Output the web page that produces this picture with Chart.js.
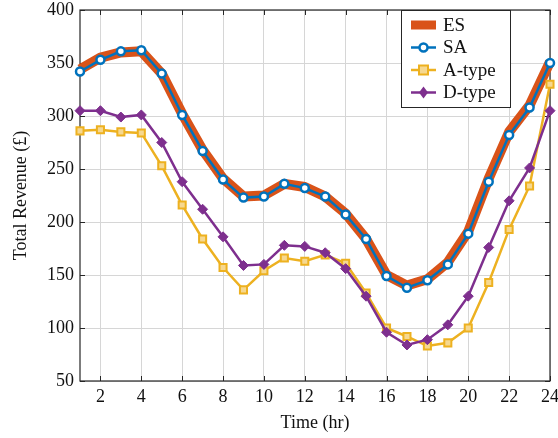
<!DOCTYPE html>
<html><head><meta charset="utf-8">
<script src="https://cdn.jsdelivr.net/npm/chart.js@4"></script>
<style>html,body{margin:0;padding:0;background:#fff}#wrap{width:558px;height:438px}</style>
</head><body><div id="wrap"><canvas id="c" width="558" height="438"></canvas></div>
<script>
const hours = [1,2,3,4,5,6,7,8,9,10,11,12,13,14,15,16,17,18,19,20,21,22,23,24];
const esValues = [344,355,360,361,340,302,268,241,224,225,236,233,224,208,184,150,140,146,162,191,241,285,310,351];
const saValues = [342,353,361,362,340,301,267,240,223,224,236,232,224,207,184,149,138,145,160,189,238,282,308,350];
const aTypeValues = [286,287,285,284,253,216,184,157,136,154,166,163,169,161,133,100,92,83,86,100,143,193,234,330];
const dTypeValues = [305,305,299,301,275,238,212,186,159,160,178,177,171,156,130,96,84,89,103,130,176,220,251,305];
const xTicks = [2,4,6,8,10,12,14,16,18,20,22,24];
const yTicks = [50,100,150,200,250,300,350,400];

const COL = {es:'#D95319', sa:'#0072BD', a:'#EDB120', d:'#7E2F8E'};
const FONT = '"Liberation Serif", "DejaVu Serif", serif';
const pts = v => v.map((y,i)=>({x:hours[i], y}));

const legendItems = [
  {label:'ES', kind:'es'},
  {label:'SA', kind:'sa'},
  {label:'A-type', kind:'a'},
  {label:'D-type', kind:'d'}
];

const framePlugin = {
  id:'frame',
  beforeDatasetsDraw(chart){
    const {ctx, chartArea:a} = chart;
    const xs = chart.scales.x, ys = chart.scales.y;
    ctx.save();
    ctx.strokeStyle = '#262626'; ctx.lineWidth = 1;
    xTicks.forEach(t=>{const px=Math.round(xs.getPixelForValue(t))+0.5;
      ctx.beginPath();ctx.moveTo(px,a.bottom);ctx.lineTo(px,a.bottom-5);ctx.moveTo(px,a.top);ctx.lineTo(px,a.top+5);ctx.stroke();});
    yTicks.forEach(t=>{const py=Math.round(ys.getPixelForValue(t))+0.5;
      ctx.beginPath();ctx.moveTo(a.left,py);ctx.lineTo(a.left+5,py);ctx.moveTo(a.right,py);ctx.lineTo(a.right-5,py);ctx.stroke();});
    ctx.lineWidth = 1.2;
    ctx.strokeRect(a.left, a.top, a.right-a.left, a.bottom-a.top);
    ctx.restore();
  },
  afterDraw(chart){
    const {ctx} = chart;
    const x0 = 401, y0 = 10, w = 109, h = 97;
    ctx.save();
    ctx.fillStyle = '#fff'; ctx.fillRect(x0,y0,w,h);
    ctx.strokeStyle = '#262626'; ctx.lineWidth = 1; ctx.strokeRect(x0+0.5,y0+0.5,w,h);
    ctx.font = '19px ' + FONT; ctx.textBaseline = 'middle'; ctx.fillStyle = '#111';
    legendItems.forEach((it,i)=>{
      const cy = y0 + 15 + i*22.5;
      const lx1 = x0+10, lx2 = x0+35, mx = (lx1+lx2)/2;
      ctx.lineCap='butt';
      if(it.kind==='es'){
        ctx.strokeStyle=COL.es; ctx.lineWidth=9; ctx.beginPath(); ctx.moveTo(lx1,cy); ctx.lineTo(lx2,cy); ctx.stroke();
      } else {
        ctx.strokeStyle=COL[it.kind]; ctx.lineWidth=2.5; ctx.beginPath(); ctx.moveTo(lx1,cy); ctx.lineTo(lx2,cy); ctx.stroke();
        if(it.kind==='sa'){ctx.fillStyle='#fff';ctx.lineWidth=2.5;ctx.beginPath();ctx.arc(mx,cy,4,0,Math.PI*2);ctx.fill();ctx.stroke();}
        if(it.kind==='a'){ctx.fillStyle='#F6D890';ctx.lineWidth=2;ctx.fillRect(mx-4.5,cy-4.5,9,9);ctx.strokeRect(mx-4.5,cy-4.5,9,9);}
        if(it.kind==='d'){ctx.fillStyle=COL.d;ctx.beginPath();ctx.moveTo(mx,cy-6);ctx.lineTo(mx+4.5,cy);ctx.lineTo(mx,cy+6);ctx.lineTo(mx-4.5,cy);ctx.closePath();ctx.fill();}
      }
      ctx.fillStyle='#111';
      ctx.fillText(it.label, x0+42, cy+1);
    });
    ctx.restore();
  }
};

new Chart(document.getElementById('c'), {
  type:'line',
  data:{datasets:[
    {label:'ES', order:4, data:pts(esValues), borderColor:COL.es, borderWidth:10, pointRadius:0, tension:0, clip:false, borderJoinStyle:'round'},
    {label:'SA', order:3, data:pts(saValues), borderColor:COL.sa, borderWidth:2.5, pointRadius:4, pointBorderWidth:2.5, pointBackgroundColor:'#fff', pointBorderColor:COL.sa, tension:0, clip:false},
    {label:'A-type', order:2, data:pts(aTypeValues), borderColor:COL.a, borderWidth:2.5, pointStyle:'rect', pointRadius:5, pointBorderWidth:2, pointBackgroundColor:'#F6D890', pointBorderColor:COL.a, tension:0, clip:false},
    {label:'D-type', order:1, data:pts(dTypeValues), borderColor:COL.d, borderWidth:2.5, pointStyle:'rectRot', pointRadius:5, pointBorderWidth:1, pointBackgroundColor:COL.d, pointBorderColor:COL.d, tension:0, clip:false}
  ]},
  options:{
    responsive:false, animation:false,
    layout:{padding:{left:6,right:8,top:10,bottom:0}},
    plugins:{legend:{display:false}, tooltip:{enabled:false}},
    scales:{
      x:{type:'linear', min:1, max:24,
        afterBuildTicks(s){s.ticks = xTicks.map(v=>({value:v}));},
        afterFit(s){s.height = 57; s.paddingLeft = 0; s.paddingRight = 0;},
        grid:{color:'#d6d6d6', lineWidth:1, drawTicks:false},
        border:{display:false},
        ticks:{color:'#111', font:{family:FONT, size:18}, padding:5, maxRotation:0},
        title:{display:true, text:'Time (hr)', color:'#111', font:{family:FONT, size:18}, padding:{top:4}}
      },
      y:{min:50, max:400,
        afterBuildTicks(s){s.ticks = yTicks.map(v=>({value:v}));},
        afterFit(s){s.width = 74; s.paddingTop = 0; s.paddingBottom = 0;},
        grid:{color:'#d6d6d6', lineWidth:1, drawTicks:false},
        border:{display:false},
        ticks:{color:'#111', font:{family:FONT, size:18}, padding:6},
        title:{display:true, text:'Total Revenue (£)', color:'#111', font:{family:FONT, size:18}, padding:{bottom:4}}
      }
    }
  },
  plugins:[framePlugin]
});
</script></body></html>
